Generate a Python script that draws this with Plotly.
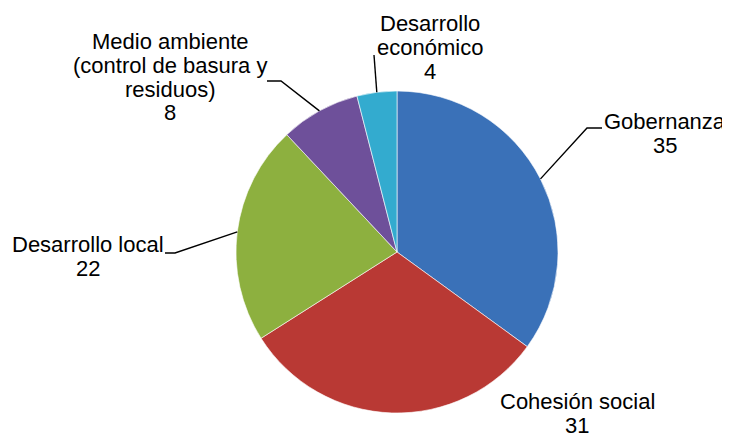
import math
import plotly.graph_objects as go

# ---- data ----
categories = ["Gobernanza", "Cohesión social", "Desarrollo local",
              "Medio ambiente (control de basura y residuos)", "Desarrollo económico"]
values = [35, 31, 22, 8, 4]
label_lines = [["Gobernanza"], ["Cohesión social"], ["Desarrollo local"],
               ["Medio ambiente", "(control de basura y", "residuos)"],
               ["Desarrollo", "económico"]]
colors = ["#3a71b8", "#b93934", "#8db03f", "#6e509a", "#33abcf"]

# ---- layout (pixel space of the 730x434 window) ----
W, H = 730, 434
OFF = 8  # page body margin
FW, FH = W - OFF, H - OFF
CX, CY, R = 397, 252, 161
FONT = 22
LINE_H = 23.8
# label centre x, first baseline y
label_pos = [(665, 129), (577, 409), (88, 252), (170, 49), (430, 31)]
# leader polyline points after the pie-edge point (None = no leader)
leader_pts = [[(587, 128), (602, 128)], None, [(175, 253), (165, 253)],
              [(281, 81), (267, 81)], [(374, 55)]]

fig = go.Figure()
fig.add_trace(go.Pie(
    labels=categories, values=values, sort=False, direction="clockwise",
    rotation=0, textinfo="none", hoverinfo="label+value",
    marker=dict(colors=colors, line=dict(color="rgba(255,255,255,0.6)", width=1)),
    domain=dict(x=[(CX - R - OFF) / FW, (CX + R - OFF) / FW],
                y=[(H - CY - R) / FH, (H - CY + R) / FH]),
    showlegend=False,
))

total = sum(values)
cum = 0
shapes = []
annotations = []
for i, v in enumerate(values):
    mid = (cum + v / 2) / total * 2 * math.pi
    cum += v
    ex = CX + R * math.sin(mid)
    ey = CY - R * math.cos(mid)
    if leader_pts[i]:
        pts = [(ex, ey)] + leader_pts[i]
        path = "M " + " L ".join(f"{x:.1f},{y:.1f}" for x, y in pts)
        shapes.append(dict(type="path", path=path, xref="x", yref="y",
                           line=dict(color="black", width=1.4)))
    lx, ly = label_pos[i]
    lines = label_lines[i] + [str(v)]
    for j, t in enumerate(lines):
        annotations.append(dict(
            x=lx, y=ly + j * LINE_H - 7.6, xref="x", yref="y", text=t,
            showarrow=False, xanchor="center", yanchor="middle",
            font=dict(family="Liberation Sans, Arial, sans-serif", size=FONT, color="black"),
        ))

fig.update_layout(
    width=FW, height=FH, margin=dict(l=0, r=0, t=0, b=0),
    paper_bgcolor="white", plot_bgcolor="white",
    xaxis=dict(range=[OFF, W], visible=False, fixedrange=True),
    yaxis=dict(range=[H, OFF], visible=False, fixedrange=True),
    shapes=shapes, annotations=annotations,
)
fig.write_html("out.html")
